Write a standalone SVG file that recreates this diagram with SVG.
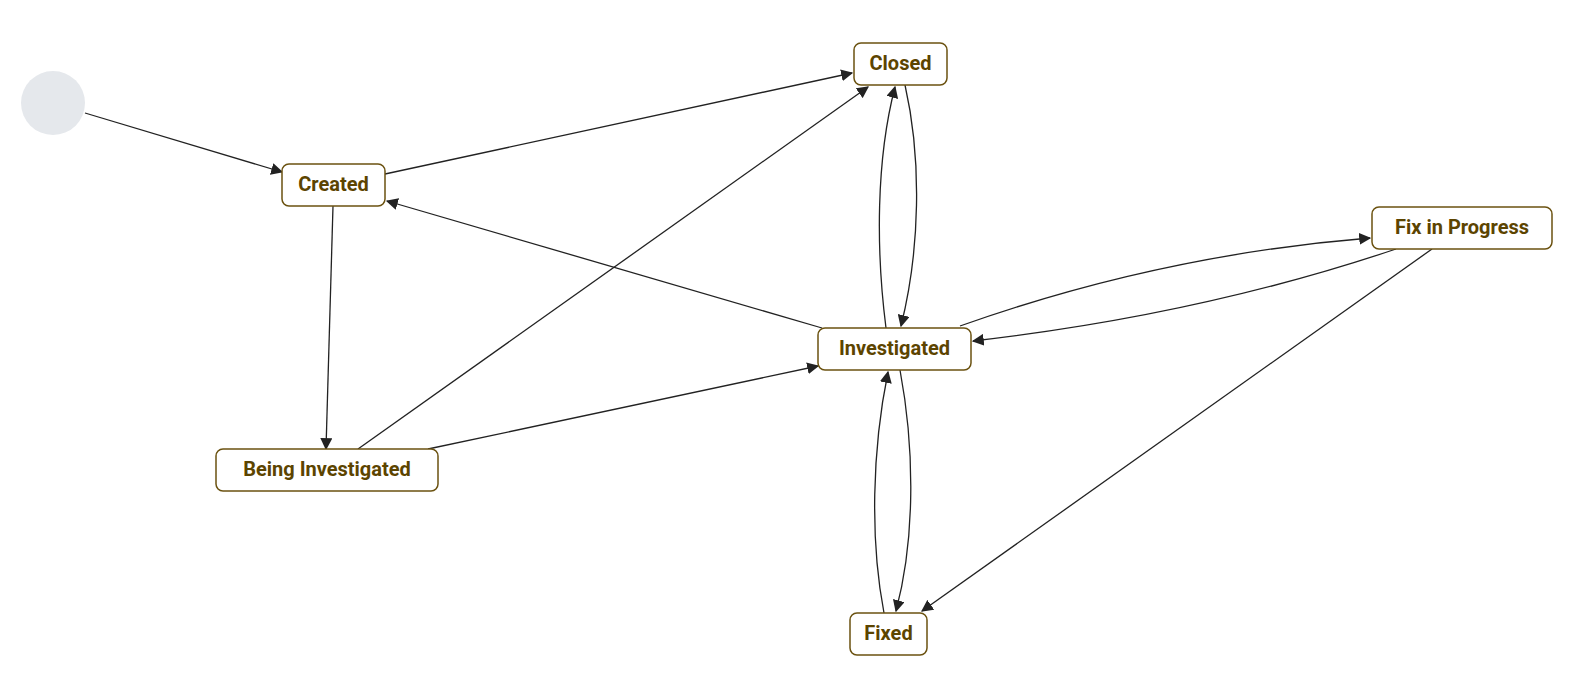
<svg xmlns="http://www.w3.org/2000/svg" width="1572" height="695" viewBox="0 0 1572 695">
<style>
.n rect{fill:#fff;stroke:#6b5210;stroke-width:1.5}
.n text{font-family:Roboto,"Liberation Sans",sans-serif;font-weight:bold;font-size:20px;fill:#5c4400;text-anchor:middle;dominant-baseline:central}
.e path{fill:none;stroke:#222;stroke-width:1.3;marker-end:url(#a)}
</style>
<defs><marker id="a" viewBox="0 0 10 10" refX="9" refY="5" markerWidth="12" markerHeight="12" markerUnits="userSpaceOnUse" orient="auto"><path d="M0,0L10,5L0,10z" fill="#222"/></marker></defs>
<rect width="1572" height="695" fill="#fff"/>
<g id="start"><circle cx="53" cy="103" r="32" fill="#e5e8ec"/></g>
<g class="e" id="edges">
<path d="M85,113L282,172"/>
<path d="M385,174L852,73"/>
<path d="M333,206L326,449"/>
<path d="M358,449L868,87"/>
<path d="M428,449L818,366"/>
<path d="M822,328L387,201"/>
<path d="M886,328C876,250 876,160 895,87"/>
<path d="M905,85C922,160 920,250 901,326"/>
<path d="M960,326Q1160,255 1370,238"/>
<path d="M1396,249Q1200,315 973,341"/>
<path d="M1432,249L922,611"/>
<path d="M900,370C915,450 915,540 896,611"/>
<path d="M884,613C870,540 872,450 888,372"/>
</g>
<g class="n" id="closed"><rect x="854" y="43" width="93" height="42" rx="7"/><text x="900.5" y="63">Closed</text></g>
<g class="n" id="created"><rect x="282" y="164" width="103" height="42" rx="7"/><text x="333.5" y="184">Created</text></g>
<g class="n" id="being"><rect x="216" y="449" width="222" height="42" rx="7"/><text x="327" y="469">Being Investigated</text></g>
<g class="n" id="investigated"><rect x="818" y="328" width="153" height="42" rx="7"/><text x="894.5" y="348">Investigated</text></g>
<g class="n" id="fip"><rect x="1372" y="207" width="180" height="42" rx="7"/><text x="1462" y="227">Fix in Progress</text></g>
<g class="n" id="fixed"><rect x="850" y="613" width="77" height="42" rx="7"/><text x="888.5" y="633">Fixed</text></g>
</svg>
